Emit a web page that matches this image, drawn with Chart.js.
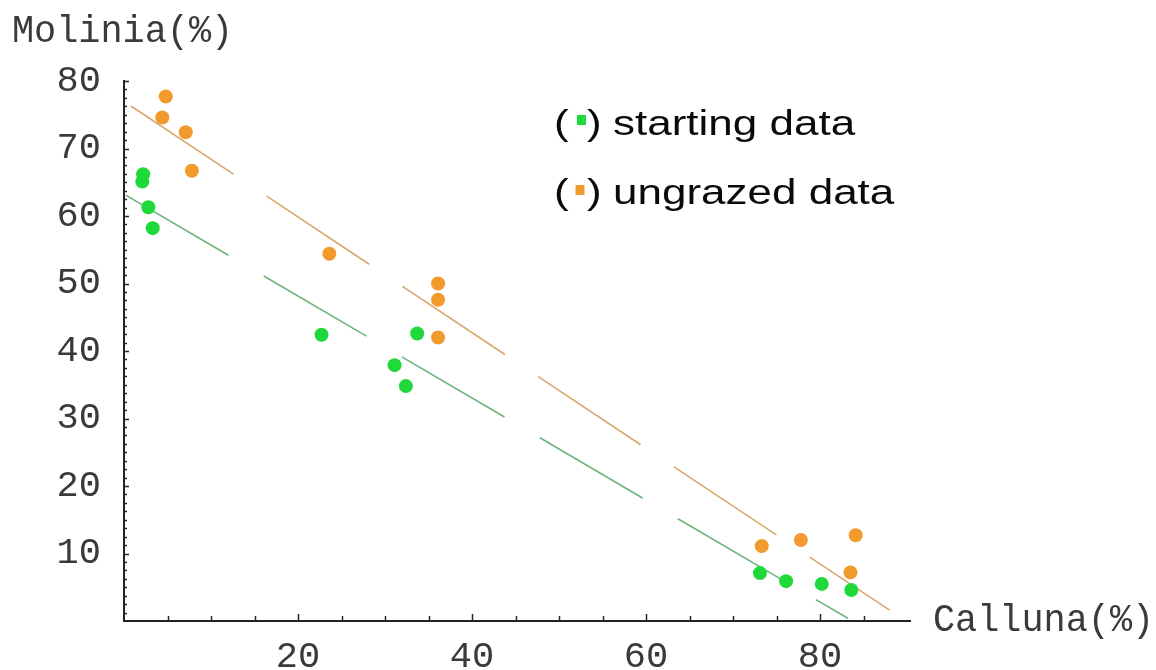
<!DOCTYPE html>
<html><head><meta charset="utf-8">
<script src="https://cdn.jsdelivr.net/npm/chart.js@4"></script>
<style>html,body{margin:0;padding:0;background:#fff;} canvas{display:block;}</style>
</head><body>
<canvas id="c" width="1156" height="670"></canvas>
<script>
// ---- data ----
const startingX = [2.2, 2.1, 2.8, 3.3, 22.7, 31.1, 32.4, 33.7, 73.1, 76.1, 80.2, 83.6];
const startingY = [66.2, 65.1, 61.3, 58.2, 42.4, 37.9, 34.8, 42.6, 7.1, 5.9, 5.5, 4.6];
const ungrazedX = [4.8, 4.4, 7.1, 7.8, 23.6, 36.1, 36.1, 36.1, 73.3, 77.8, 84.1, 83.5];
const ungrazedY = [77.7, 74.6, 72.4, 66.7, 54.4, 50.0, 47.6, 42.0, 11.1, 12.0, 12.7, 7.2];
const startingFitX = [0.2, 83.2];
const startingFitY = [63.1, 0.4];
const ungrazedFitX = [0.8, 88.0];
const ungrazedFitY = [76.3, 1.6];
const xTickLabels = [20, 40, 60, 80];
const yTickLabels = [10, 20, 30, 40, 50, 60, 70, 80];
const seriesNames = ['starting data', 'ungrazed data'];
const xTitle = 'Calluna(%)';
const yTitle = 'Molinia(%)';

const GREEN = '#1fd93a', ORANGE = '#f29a2c';
const GREEN_LINE = '#6cb57c', ORANGE_LINE = '#d9a76c';

function pts(xs, ys) { return xs.map((x, i) => ({ x: x, y: ys[i] })); }

const MONO = '"Liberation Mono", "Courier New", monospace';
const SANS = '"Liberation Sans", Arial, sans-serif';

function scaledText(ctx, text, x, y, font, sx) {
  ctx.save();
  ctx.font = font;
  ctx.textBaseline = 'alphabetic';
  ctx.textAlign = 'left';
  ctx.translate(x, y);
  ctx.scale(sx, 1);
  ctx.fillText(text, 0, 0);
  ctx.restore();
}

const decorPlugin = {
  id: 'decor',
  afterDraw(chart) {
    const ctx = chart.ctx;
    const xs = chart.scales.x, ys = chart.scales.y;
    ctx.save();
    // tick marks, pointing inward as in the reference
    ctx.strokeStyle = '#222';
    ctx.lineWidth = 1.5;
    const left = xs.getPixelForValue(0), bottom = ys.getPixelForValue(0);
    for (let i = 1; i <= 64; i++) {
      const v = i * 1.25;
      const py = Math.round(ys.getPixelForValue(v)) + 0.5;
      const len = (v % 10 === 0) ? 5 : 3;
      ctx.beginPath(); ctx.moveTo(left, py); ctx.lineTo(left + len, py); ctx.stroke();
    }
    for (let i = 1; i <= 17; i++) {
      const v = i * 5;
      const px = Math.round(xs.getPixelForValue(v)) + 0.5;
      const len = (v % 20 === 0) ? 7 : 5;
      ctx.beginPath(); ctx.moveTo(px, bottom); ctx.lineTo(px, bottom - len); ctx.stroke();
    }
    // axis titles
    ctx.fillStyle = '#3a3a3a';
    scaledText(ctx, yTitle, 12, 42, '38px ' + MONO, 0.97);
    scaledText(ctx, xTitle, 933, 631, '38px ' + MONO, 0.97);
    // legend
    const f = '35px ' + SANS, sx = 1.257;
    const rows = [
      { name: seriesNames[0], color: GREEN, base: 134.5, sq: [577, 115] },
      { name: seriesNames[1], color: ORANGE, base: 203.5, sq: [575.5, 185] }
    ];
    rows.forEach(r => {
      ctx.fillStyle = '#0a0a0a';
      scaledText(ctx, '(', 554, r.base, f, sx);
      scaledText(ctx, ')', 587, r.base, f, sx);
      scaledText(ctx, r.name, 613, r.base, f, sx);
      ctx.fillStyle = r.color;
      ctx.fillRect(r.sq[0], r.sq[1], 9, 10);
    });
    ctx.restore();
  }
};

new Chart(document.getElementById('c'), {
  type: 'scatter',
  data: {
    datasets: [
      { type: 'line', label: 'starting fit', data: pts(startingFitX, startingFitY),
        borderColor: GREEN_LINE, borderWidth: 1.6, borderDash: [119, 41], pointRadius: 0,
        fill: false, tension: 0, order: 3 },
      { type: 'line', label: 'ungrazed fit', data: pts(ungrazedFitX, ungrazedFitY),
        borderColor: ORANGE_LINE, borderWidth: 1.6, borderDash: [123, 40], pointRadius: 0,
        fill: false, tension: 0, order: 4 },
      { label: seriesNames[0], data: pts(startingX, startingY), backgroundColor: GREEN,
        borderWidth: 0, pointRadius: 7, pointHoverRadius: 7, order: 1 },
      { label: seriesNames[1], data: pts(ungrazedX, ungrazedY), backgroundColor: ORANGE,
        borderWidth: 0, pointRadius: 7, pointHoverRadius: 7, order: 2 }
    ]
  },
  options: {
    responsive: false,
    animation: false,
    events: [],
    layout: { padding: { left: 0, right: 245.5, top: 81, bottom: 0 } },
    plugins: { legend: { display: false }, tooltip: { enabled: false }, title: { display: false } },
    scales: {
      x: {
        type: 'linear', min: 0, max: 90.4,
        afterFit(s) { s.height = 49; },
        grid: { display: false },
        border: { display: true, color: '#222', width: 2 },
        ticks: {
          stepSize: 5, autoSkip: false, maxRotation: 0, padding: 6,
          color: '#3a3a3a', font: { family: MONO, size: 37 },
          callback: v => xTickLabels.includes(v) ? String(v) : ''
        }
      },
      y: {
        type: 'linear', min: 0, max: 80,
        afterFit(s) { s.width = 124; },
        grid: { display: false },
        border: { display: true, color: '#222', width: 2 },
        ticks: {
          stepSize: 10, autoSkip: false, padding: 15,
          color: '#3a3a3a', font: { family: MONO, size: 37 },
          callback: v => yTickLabels.includes(v) ? String(v) : ''
        }
      }
    }
  },
  plugins: [decorPlugin]
});
</script>
</body></html>
